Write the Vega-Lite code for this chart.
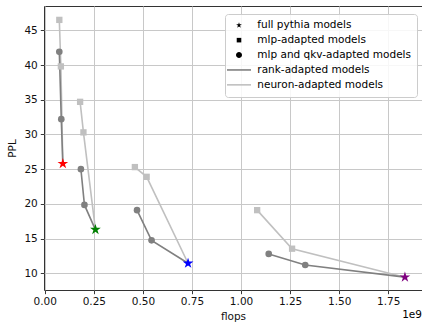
{
  "$schema": "https://vega.github.io/schema/vega-lite/v6.json",
  "width": 378,
  "height": 284,
  "autosize": {"type": "none"},
  "padding": {"left": 44, "top": 6, "right": 0, "bottom": 32},
  "background": "white",
  "title": {"text": "1e9", "orient": "bottom", "anchor": "end", "frame": "group", "font": "DejaVu Sans", "fontSize": 10.5, "fontWeight": "normal", "color": "#000", "offset": -12},
  "config": {
    "view": {"stroke": "#333", "strokeWidth": 1},
    "font": "DejaVu Sans",
    "axis": {
      "domain": false,
      "grid": true,
      "gridColor": "#c8c8c8",
      "gridWidth": 1,
      "tickColor": "#222",
      "tickSize": 3.7,
      "tickWidth": 0.9,
      "labelFont": "DejaVu Sans",
      "labelFontSize": 10.5,
      "labelColor": "#111",
      "labelPadding": 3,
      "titleFont": "DejaVu Sans",
      "titleFontSize": 10.5,
      "titleFontWeight": "normal",
      "titleColor": "#111",
      "labelFlush": false,
      "labelOverlap": false
    },
    "legend": {
      "orient": "none",
      "legendX": 181,
      "legendY": 8,
      "labelFont": "DejaVu Sans",
      "labelFontSize": 10.5,
      "labelColor": "#000",
      "fillColor": "rgba(255,255,255,0.85)",
      "strokeColor": "#cccccc",
      "cornerRadius": 3,
      "padding": 6,
      "rowPadding": 3.9,
      "symbolSize": 64,
      "symbolStrokeWidth": 0,
      "symbolOpacity": 1,
      "symbolOffset": 2.75,
      "labelOffset": 13.1
    }
  },
  "data": {
    "values": [
      {"model": "A", "kind": "full pythia models", "flops": 0.092, "ppl": 25.8},
      {"model": "A", "kind": "mlp-adapted models", "flops": 0.074, "ppl": 46.5},
      {"model": "A", "kind": "mlp-adapted models", "flops": 0.082, "ppl": 39.8},
      {"model": "A", "kind": "mlp and qkv-adapted models", "flops": 0.074, "ppl": 41.9},
      {"model": "A", "kind": "mlp and qkv-adapted models", "flops": 0.084, "ppl": 32.2},
      {"model": "B", "kind": "full pythia models", "flops": 0.258, "ppl": 16.3},
      {"model": "B", "kind": "mlp-adapted models", "flops": 0.180, "ppl": 34.7},
      {"model": "B", "kind": "mlp-adapted models", "flops": 0.197, "ppl": 30.3},
      {"model": "B", "kind": "mlp and qkv-adapted models", "flops": 0.184, "ppl": 25.0},
      {"model": "B", "kind": "mlp and qkv-adapted models", "flops": 0.202, "ppl": 19.85},
      {"model": "C", "kind": "full pythia models", "flops": 0.730, "ppl": 11.45},
      {"model": "C", "kind": "mlp-adapted models", "flops": 0.459, "ppl": 25.3},
      {"model": "C", "kind": "mlp-adapted models", "flops": 0.519, "ppl": 23.9},
      {"model": "C", "kind": "mlp and qkv-adapted models", "flops": 0.470, "ppl": 19.1},
      {"model": "C", "kind": "mlp and qkv-adapted models", "flops": 0.544, "ppl": 14.75},
      {"model": "D", "kind": "full pythia models", "flops": 1.835, "ppl": 9.45},
      {"model": "D", "kind": "mlp-adapted models", "flops": 1.082, "ppl": 19.1},
      {"model": "D", "kind": "mlp-adapted models", "flops": 1.260, "ppl": 13.55},
      {"model": "D", "kind": "mlp and qkv-adapted models", "flops": 1.141, "ppl": 12.8},
      {"model": "D", "kind": "mlp and qkv-adapted models", "flops": 1.327, "ppl": 11.2}
    ]
  },
  "encoding": {
    "x": {"field": "flops", "type": "quantitative", "scale": {"domain": [-0.004, 1.922], "nice": false, "zero": false},
      "axis": {"title": "flops", "values": [0, 0.25, 0.5, 0.75, 1.0, 1.25, 1.5, 1.75], "format": ".2f", "titlePadding": 4}},
    "y": {"field": "ppl", "type": "quantitative", "scale": {"domain": [7.6, 48.5], "nice": false, "zero": false},
      "axis": {"title": "PPL", "values": [10, 15, 20, 25, 30, 35, 40, 45], "format": "d", "titlePadding": 6}}
  },
  "layer": [
    {
      "transform": [{"filter": "false"}],
      "mark": {"type": "point", "filled": true, "opacity": 1},
      "encoding": {
        "color": {
          "field": "kind",
          "type": "nominal",
          "scale": {
            "domain": ["full pythia models", "mlp-adapted models", "mlp and qkv-adapted models", "rank-adapted models", "neuron-adapted models"],
            "range": ["black", "black", "black", "#808080", "#c0c0c0"]
          },
          "legend": {"title": null}
        },
        "shape": {
          "field": "kind",
          "type": "nominal",
          "scale": {
            "domain": ["full pythia models", "mlp-adapted models", "mlp and qkv-adapted models", "rank-adapted models", "neuron-adapted models"],
            "range": [
              "M0,-0.75L0.1684,-0.2318L0.7133,-0.2318L0.2725,0.0885L0.4408,0.6068L0,0.2865L-0.4408,0.6068L-0.2725,0.0885L-0.7133,-0.2318L-0.1684,-0.2318Z",
              "M-0.57,-0.57H0.57V0.57H-0.57Z",
              "M-0.75,0A0.75,0.75 0 1,0 0.75,0A0.75,0.75 0 1,0 -0.75,0Z",
              "M-3,-0.2H3V0.2H-3Z",
              "M-3,-0.2H3V0.2H-3Z"
            ]
          },
          "legend": {"title": null}
        }
      }
    },
    {
      "transform": [{"filter": "datum.kind === 'mlp-adapted models' || datum.kind === 'full pythia models'"}],
      "mark": {"type": "line", "color": "#c0c0c0", "strokeWidth": 1.6},
      "encoding": {"detail": {"field": "model"}}
    },
    {
      "transform": [{"filter": "datum.kind === 'mlp and qkv-adapted models' || datum.kind === 'full pythia models'"}],
      "mark": {"type": "line", "color": "#808080", "strokeWidth": 1.6},
      "encoding": {"detail": {"field": "model"}}
    },
    {
      "transform": [{"filter": "datum.kind === 'mlp-adapted models'"}],
      "mark": {"type": "point", "shape": "square", "filled": true, "opacity": 1, "color": "#c0c0c0", "size": 40},
      "encoding": {}
    },
    {
      "transform": [{"filter": "datum.kind === 'mlp and qkv-adapted models'"}],
      "mark": {"type": "point", "shape": "circle", "filled": true, "opacity": 1, "color": "#808080", "size": 44},
      "encoding": {}
    },
    {
      "transform": [{"filter": "datum.kind === 'full pythia models'"}],
      "mark": {"type": "point", "shape": "M0,-1L0.2245,-0.309L0.9511,-0.309L0.3633,0.118L0.5878,0.809L0,0.382L-0.5878,0.809L-0.3633,0.118L-0.9511,-0.309L-0.2245,-0.309Z", "filled": true, "opacity": 1, "size": 127},
      "encoding": {
        "fill": {"field": "model", "type": "nominal", "scale": {"domain": ["A", "B", "C", "D"], "range": ["red", "green", "blue", "purple"]}, "legend": null}
      }
    }
  ]
}
